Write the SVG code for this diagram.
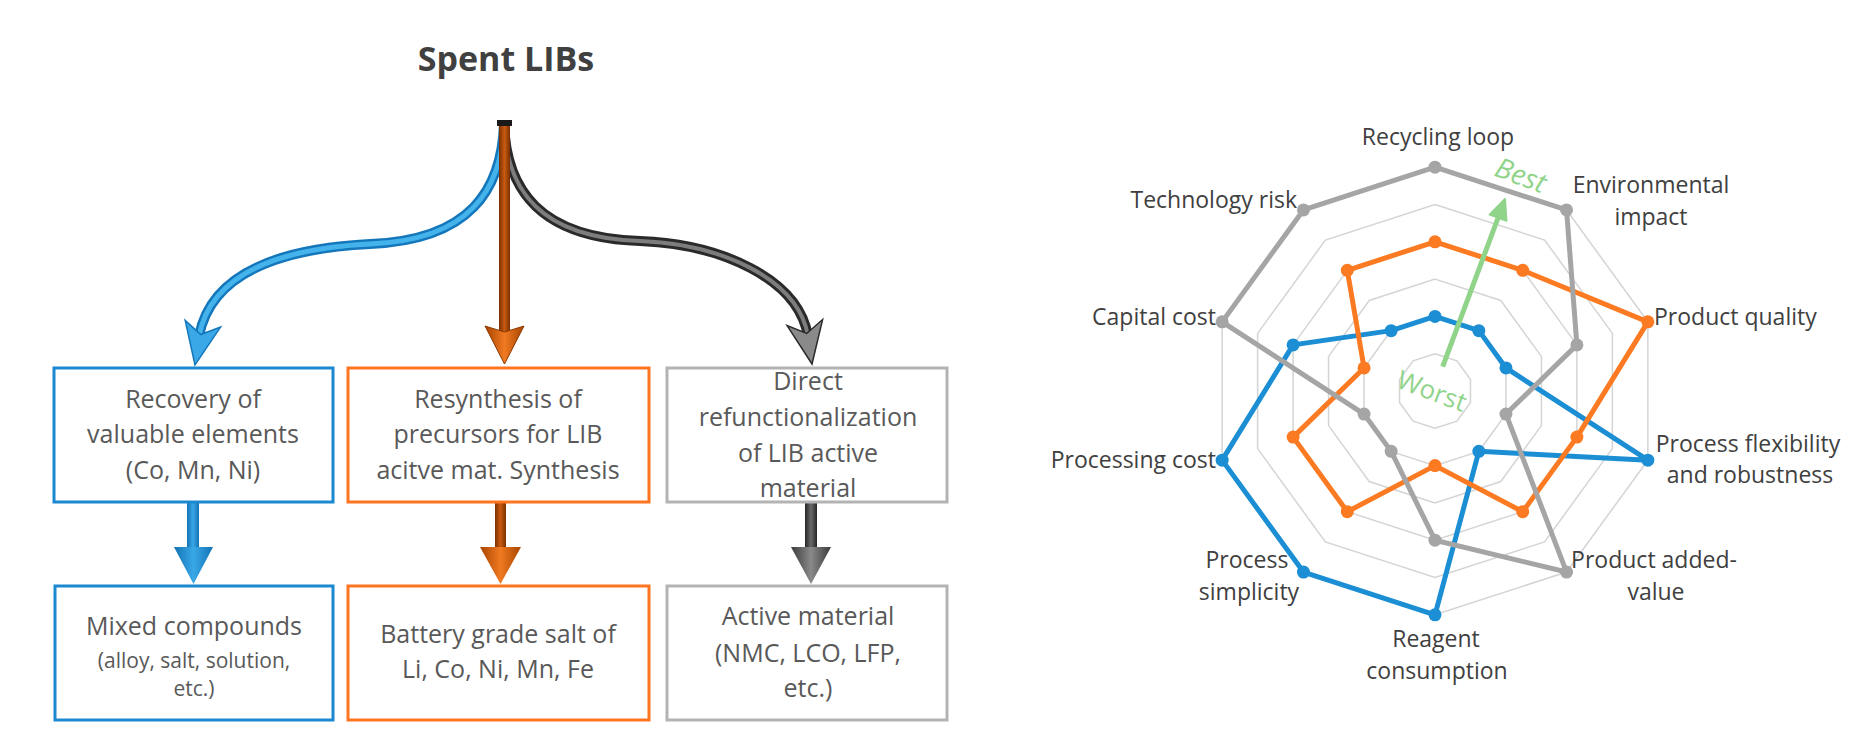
<svg xmlns="http://www.w3.org/2000/svg" width="1863" height="751" viewBox="0 0 1863 751">
<defs>
<style>
.t{font-family:'Open Sans','Liberation Sans',sans-serif;fill:#595959;text-anchor:middle}
.bt{font-size:25px}
.sm{font-size:21px}
.lbl{font-family:'Open Sans','Liberation Sans',sans-serif;font-size:23px;fill:#404040}
.box{fill:#ffffff;stroke-width:3}
.bl{stroke:#1b88d0}
.or{stroke:#ff7420}
.gr{stroke:#b3b3b3}
.grid{fill:none;stroke:#d4d4d4;stroke-width:1.5}
.ser{fill:none;stroke-width:5;stroke-linejoin:round}
</style>
<linearGradient id="gBlue" x1="0" x2="1" y1="0" y2="0"><stop offset="0" stop-color="#1272b5"/><stop offset="0.5" stop-color="#3aa8e6"/><stop offset="1" stop-color="#1272b5"/></linearGradient>
<linearGradient id="gOr" x1="0" x2="1" y1="0" y2="0"><stop offset="0" stop-color="#7a3000"/><stop offset="0.5" stop-color="#c85a12"/><stop offset="1" stop-color="#7a3000"/></linearGradient>
<linearGradient id="gOrH" x1="0" x2="1" y1="0" y2="0"><stop offset="0" stop-color="#a84400"/><stop offset="0.5" stop-color="#f07a22"/><stop offset="1" stop-color="#a84400"/></linearGradient>
<linearGradient id="gGr" x1="0" x2="1" y1="0" y2="0"><stop offset="0" stop-color="#262626"/><stop offset="0.5" stop-color="#6a6a6a"/><stop offset="1" stop-color="#262626"/></linearGradient>
<linearGradient id="gGrH" x1="0" x2="1" y1="0" y2="0"><stop offset="0" stop-color="#3a3a3a"/><stop offset="0.5" stop-color="#8a8a8a"/><stop offset="1" stop-color="#3a3a3a"/></linearGradient>
<circle id="dot" r="6.5"/>
</defs>
<rect width="1863" height="751" fill="#ffffff"/>

<g id="title"><text class="t" x="506" y="71" font-size="34" font-weight="700" style="fill:#404040">Spent LIBs</text></g>

<g id="connectors">
<path d="M504,123 C502,190 470,240 370,244 C290,248 212,268 199,336" fill="none" stroke="#1577bb" stroke-width="10"/>
<path d="M504,123 C502,190 470,240 370,244 C290,248 212,268 199,336" fill="none" stroke="#44b3ec" stroke-width="5"/>
<path transform="translate(195,365) rotate(10.8)" d="M0,0 L-18,-42 L0,-31 L18,-42 Z" fill="#3aa8e6" stroke="#1577bb" stroke-width="1.5"/>
<path d="M504,123 C506,190 540,238 640,241 C720,244 798,278 808,336" fill="none" stroke="#2a2a2a" stroke-width="10"/>
<path d="M504,123 C506,190 540,238 640,241 C720,244 798,278 808,336" fill="none" stroke="#7d7d7d" stroke-width="4"/>
<path transform="translate(812,364) rotate(-9.8)" d="M0,0 L-18,-42 L0,-31 L18,-42 Z" fill="#8a8a8a" stroke="#2a2a2a" stroke-width="1.5"/>
<rect x="499" y="123" width="11" height="210" fill="url(#gOr)"/>
<path d="M504.5,364 L485,326 L504.5,332 L524,326 Z" fill="url(#gOrH)" stroke="#8a3a00" stroke-width="1"/>
<rect x="497" y="120" width="15" height="6" fill="#1a1a1a"/>
<rect x="187" y="503" width="12" height="45" fill="url(#gBlue)"/>
<path d="M174,547 L213,547 L193.5,584 Z" fill="url(#gBlue)"/>
<rect x="495" y="503" width="11" height="45" fill="url(#gOr)"/>
<path d="M480,547 L521,547 L500.5,584 Z" fill="url(#gOrH)"/>
<rect x="805" y="503" width="12" height="45" fill="url(#gGr)"/>
<path d="M791,547 L831,547 L811,584 Z" fill="url(#gGrH)"/>
</g>

<g id="n-recovery"><rect class="box bl" x="54" y="368" width="279" height="134"/>
<text class="t bt" x="193" y="408">Recovery of</text>
<text class="t bt" x="193" y="443">valuable elements</text>
<text class="t bt" x="193" y="479">(Co, Mn, Ni)</text></g>

<g id="n-resynthesis"><rect class="box or" x="348" y="368" width="301" height="134"/>
<text class="t bt" x="498" y="408">Resynthesis of</text>
<text class="t bt" x="498" y="443">precursors for LIB</text>
<text class="t bt" x="498" y="479">acitve mat. Synthesis</text></g>

<g id="n-direct"><rect class="box gr" x="667" y="368" width="280" height="134"/>
<text class="t bt" x="808" y="390">Direct</text>
<text class="t bt" x="808" y="426">refunctionalization</text>
<text class="t bt" x="808" y="462">of LIB active</text>
<text class="t bt" x="808" y="497">material</text></g>

<g id="n-mixed"><rect class="box bl" x="55" y="586" width="278" height="134"/>
<text class="t bt" x="194" y="635">Mixed compounds</text>
<text class="t sm" x="194" y="668">(alloy, salt, solution,</text>
<text class="t sm" x="194" y="696">etc.)</text></g>

<g id="n-battery"><rect class="box or" x="348" y="586" width="301" height="134"/>
<text class="t bt" x="498" y="643">Battery grade salt of</text>
<text class="t bt" x="498" y="678">Li, Co, Ni, Mn, Fe</text></g>

<g id="n-active"><rect class="box gr" x="667" y="586" width="280" height="134"/>
<text class="t bt" x="808" y="625">Active material</text>
<text class="t bt" x="808" y="662">(NMC, LCO, LFP,</text>
<text class="t bt" x="808" y="697">etc.)</text></g>

<g id="radar" transform="translate(1435,391)">
<polygon class="grid" points="0,-37.3 21.93,-30.18 35.48,-11.53 35.48,11.53 21.93,30.18 0,37.3 -21.93,30.18 -35.48,11.53 -35.48,-11.53 -21.93,-30.18"/>
<polygon class="grid" points="0,-74.6 43.85,-60.35 70.95,-23.05 70.95,23.05 43.85,60.35 0,74.6 -43.85,60.35 -70.95,23.05 -70.95,-23.05 -43.85,-60.35"/>
<polygon class="grid" points="0,-111.9 65.78,-90.53 106.43,-34.58 106.43,34.58 65.78,90.53 0,111.9 -65.78,90.53 -106.43,34.58 -106.43,-34.58 -65.78,-90.53"/>
<polygon class="grid" points="0,-149.2 87.7,-120.7 141.9,-46.1 141.9,46.1 87.7,120.7 0,149.2 -87.7,120.7 -141.9,46.1 -141.9,-46.1 -87.7,-120.7"/>
<polygon class="grid" points="0,-186.5 109.63,-150.88 177.38,-57.63 177.38,57.63 109.63,150.88 0,186.5 -109.63,150.88 -177.38,57.63 -177.38,-57.63 -109.63,-150.88"/>
<polygon class="grid" points="0,-223.8 131.55,-181.05 212.86,-69.15 212.86,69.15 131.55,181.05 0,223.8 -131.55,181.05 -212.86,69.15 -212.86,-69.15 -131.55,-181.05"/>

<g id="series-blue" fill="#1b8ed4">
<polygon class="ser" stroke="#1b8ed4" points="0,-74.6 43.85,-60.35 70.95,-23.05 212.86,69.15 43.85,60.35 0,223.8 -131.55,181.05 -212.86,69.15 -141.9,-46.1 -43.85,-60.35"/>
<use href="#dot" x="0" y="-74.6"/><use href="#dot" x="43.85" y="-60.35"/><use href="#dot" x="70.95" y="-23.05"/><use href="#dot" x="212.86" y="69.15"/><use href="#dot" x="43.85" y="60.35"/><use href="#dot" x="0" y="223.8"/><use href="#dot" x="-131.55" y="181.05"/><use href="#dot" x="-212.86" y="69.15"/><use href="#dot" x="-141.9" y="-46.1"/><use href="#dot" x="-43.85" y="-60.35"/>
</g>
<g id="series-orange" fill="#fb7a22">
<polygon class="ser" stroke="#fb7a22" points="0,-149.2 87.7,-120.7 212.86,-69.15 141.9,46.1 87.7,120.7 0,74.6 -87.7,120.7 -141.9,46.1 -70.95,-23.05 -87.7,-120.7"/>
<use href="#dot" x="0" y="-149.2"/><use href="#dot" x="87.7" y="-120.7"/><use href="#dot" x="212.86" y="-69.15"/><use href="#dot" x="141.9" y="46.1"/><use href="#dot" x="87.7" y="120.7"/><use href="#dot" x="0" y="74.6"/><use href="#dot" x="-87.7" y="120.7"/><use href="#dot" x="-141.9" y="46.1"/><use href="#dot" x="-70.95" y="-23.05"/><use href="#dot" x="-87.7" y="-120.7"/>
</g>
<g id="series-gray" fill="#a5a5a5">
<polygon class="ser" stroke="#a5a5a5" stroke-width="5.5" points="0,-223.8 131.55,-181.05 141.9,-46.1 70.95,23.05 131.55,181.05 0,149.2 -43.85,60.35 -70.95,23.05 -212.86,-69.15 -131.55,-181.05"/>
<use href="#dot" x="0" y="-223.8"/><use href="#dot" x="131.55" y="-181.05"/><use href="#dot" x="141.9" y="-46.1"/><use href="#dot" x="70.95" y="23.05"/><use href="#dot" x="131.55" y="181.05"/><use href="#dot" x="0" y="149.2"/><use href="#dot" x="-43.85" y="60.35"/><use href="#dot" x="-70.95" y="23.05"/><use href="#dot" x="-212.86" y="-69.15"/><use href="#dot" x="-131.55" y="-181.05"/>
</g>

<g id="best-worst">
<line x1="7.7" y1="-24.3" x2="63" y2="-173" stroke="#90d48a" stroke-width="5"/>
<polygon points="70,-192 71.47,-170.13 54.61,-176.39" fill="#90d48a" stroke="#90d48a" stroke-width="2" stroke-linejoin="round"/>
<text x="86" y="-206" transform="rotate(20.5 86 -216)" font-family="'Open Sans','Liberation Sans',sans-serif" font-size="28" font-style="italic" fill="#90d48a" text-anchor="middle">Best</text>
<text x="-3.5" y="9" transform="rotate(20.5 -3.5 1)" font-family="'Open Sans','Liberation Sans',sans-serif" font-size="26" fill="#90d48a" text-anchor="middle">Worst</text>
</g>
</g>

<g id="labels">
<text class="lbl" x="1438" y="145" text-anchor="middle">Recycling loop</text>
<text class="lbl" x="1651" y="193" text-anchor="middle">Environmental</text>
<text class="lbl" x="1651" y="225" text-anchor="middle">impact</text>
<text class="lbl" x="1654" y="325">Product quality</text>
<text class="lbl" x="1748" y="452" text-anchor="middle">Process flexibility</text>
<text class="lbl" x="1750" y="483" text-anchor="middle">and robustness</text>
<text class="lbl" x="1654" y="568" text-anchor="middle">Product added-</text>
<text class="lbl" x="1656" y="600" text-anchor="middle">value</text>
<text class="lbl" x="1436" y="647" text-anchor="middle">Reagent</text>
<text class="lbl" x="1437" y="679" text-anchor="middle">consumption</text>
<text class="lbl" x="1247" y="568" text-anchor="middle">Process</text>
<text class="lbl" x="1249" y="600" text-anchor="middle">simplicity</text>
<text class="lbl" x="1216" y="468" text-anchor="end">Processing cost</text>
<text class="lbl" x="1216" y="325" text-anchor="end">Capital cost</text>
<text class="lbl" x="1297" y="208" text-anchor="end">Technology risk</text>
</g>
</svg>
